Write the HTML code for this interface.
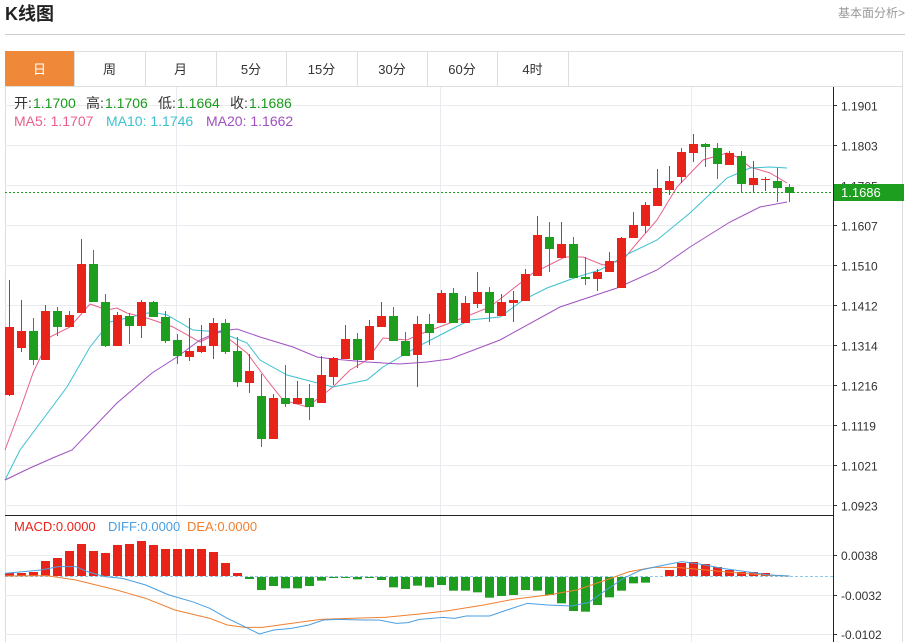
<!DOCTYPE html>
<html><head><meta charset="utf-8"><style>
body{margin:0;background:#fff;width:909px;height:642px;overflow:hidden;font-family:"Liberation Sans","Noto Sans CJK SC",sans-serif;}
</style></head><body>
<svg id="s" width="909" height="642" xmlns="http://www.w3.org/2000/svg" style="position:absolute;left:0;top:0">
<text x="5" y="20" font-size="18" font-weight="bold" fill="#222" font-family="Liberation Sans,Noto Sans CJK SC,sans-serif">K线图</text>
<text x="905" y="17" font-size="12" fill="#999" text-anchor="end" font-family="Liberation Sans,Noto Sans CJK SC,sans-serif">基本面分析&gt;</text>
<line x1="5" y1="34.5" x2="905" y2="34.5" stroke="#ccc"/>
<rect x="5.5" y="51.5" width="897" height="600" fill="none" stroke="#ddd"/>
<line x1="5" y1="86.5" x2="903" y2="86.5" stroke="#ddd"/>
<rect x="5" y="51" width="69" height="35" fill="#f0883a"/>
<g id="tabs" font-size="13" fill="#333" text-anchor="middle" font-family="Liberation Sans,Noto Sans CJK SC,sans-serif"></g>
<g id="grid"></g>
<g id="mas"></g>
<g id="candles"></g>
<g id="macd"></g>
<g font-size="14" font-family="Liberation Sans,Noto Sans CJK SC,sans-serif">
<text x="14" y="108" fill="#333">开:</text><text x="33" y="108" fill="#1a9a1a">1.1700</text>
<text x="86" y="108" fill="#333">高:</text><text x="105" y="108" fill="#1a9a1a">1.1706</text>
<text x="158" y="108" fill="#333">低:</text><text x="177" y="108" fill="#1a9a1a">1.1664</text>
<text x="230" y="108" fill="#333">收:</text><text x="249" y="108" fill="#1a9a1a">1.1686</text>
<text x="14" y="126" fill="#e8608a">MA5: 1.1707</text>
<text x="106" y="126" fill="#3cc0d0">MA10: 1.1746</text>
<text x="206" y="126" fill="#a050c0">MA20: 1.1662</text>
</g>
<g font-size="13" font-family="Liberation Sans,sans-serif">
<text x="14" y="531" fill="#e8231a">MACD:0.0000</text>
<text x="108" y="531" fill="#4a9ee0">DIFF:0.0000</text>
<text x="187" y="531" fill="#f08030">DEA:0.0000</text>
</g>
</svg>
<script>
var NS="http://www.w3.org/2000/svg";
function el(p,t,a,txt){var e=document.createElementNS(NS,t);for(var k in a)e.setAttribute(k,a[k]);if(txt!==undefined)e.textContent=txt;document.getElementById(p).appendChild(e);return e;}
var tabs=[["日",5,74],["周",74,145],["月",145,216],["5分",216,286],["15分",286,357],["30分",357,427],["60分",427,497],["4时",497,568]];
tabs.forEach(function(t,i){el("tabs","text",{x:(t[1]+t[2])/2,y:74,fill:i==0?"#fff":"#333"},t[0]);el("tabs","line",{x1:t[2]+.5,y1:51,x2:t[2]+.5,y2:86,stroke:"#ddd"});});
var labels=["1.1901","1.1803","1.1705","1.1607","1.1510","1.1412","1.1314","1.1216","1.1119","1.1021","1.0923"];
labels.forEach(function(l,i){var y=105+i*40+.5;el("grid","line",{x1:5,y1:y,x2:833,y2:y,stroke:"#e8ecf0"});el("grid","line",{x1:833,y1:y,x2:837,y2:y,stroke:"#333"});el("grid","text",{x:841,y:y+5,"font-size":12,fill:"#333"},l);});
[176,440,691].forEach(function(x){el("grid","line",{x1:x+.5,y1:87,x2:x+.5,y2:642,stroke:"#e8ecf0"});});
[[555,"0.0038"],[595,"-0.0032"],[634,"-0.0102"]].forEach(function(a){el("grid","line",{x1:5,y1:a[0]+.5,x2:833,y2:a[0]+.5,stroke:"#e8ecf0"});el("grid","line",{x1:833,y1:a[0]+.5,x2:837,y2:a[0]+.5,stroke:"#333"});el("grid","text",{x:841,y:a[0]+5,"font-size":12,fill:"#333"},a[1]);});
el("grid","line",{x1:833.5,y1:87,x2:833.5,y2:642,stroke:"#222"});
el("grid","line",{x1:5,y1:515.5,x2:833,y2:515.5,stroke:"#222"});
el("grid","line",{x1:5,y1:576.5,x2:833,y2:576.5,stroke:"#8cc8e8","stroke-dasharray":"3,2"});
var C=[["r",327,395,280,396],["r",331,348,300,352],["g",331,360,318,365],["r",311,360,305,360],["g",311,327,307,336],["r",315,327,311,327],["r",264,313,239,313],["g",264,302,250,302],["g",302,346,294,347],["r",315,346,312,346],["g",316,326,313,344],["r",302,326,300,338],["g",302,317,301,317],["g",317,341,311,343],["g",340,356,334,364],["r",351,357,318,361],["r",346,352,325,353],["r",323,346,318,359],["g",323,352,319,354],["g",351,382,337,387],["r",371,383,354,393],["g",396,439,374,447],["r",398,439,394,439],["g",398,404,365,407],["r",398,404,381,404],["g",398,407,384,420],["r",375,403,356,403],["r",358,377,357,385],["r",339,359,325,359],["g",339,360,333,368],["r",326,360,320,360],["r",316,327,302,327],["g",316,341,307,341],["g",341,356,332,356],["r",324,355,316,387],["g",324,333,314,345],["r",293,323,290,323],["g",293,323,288,323],["r",303,323,296,323],["r",292,304,272,308],["g",292,313,287,322],["r",302,316,294,316],["r",300,303,291,322],["r",274,301,269,301],["r",235,276,216,276],["g",237,249,222,272],["r",244,258,222,258],["g",244,278,237,278],["g",277,279,257,285],["r",272,279,269,291],["r",261,272,252,272],["r",238,288,237,288],["r",225,238,212,238],["r",205,226,202,233],["r",188,206,169,206],["r",181,190,166,195],["r",152,177,148,183],["r",144,153,134,162],["g",144,147,143,167],["g",148,164,143,179],["r",153,165,151,165],["g",156,184,151,192],["r",178,185,161,193],["r",179,180,177,191],["g",181,188,168,202],["g",187,193,184,202]];
C.forEach(function(c,i){var x=5+i*12,col=c[0]=="r"?"#e8231a":"#1e9e1e";el("candles","line",{x1:x+4.5,y1:c[3],x2:x+4.5,y2:c[4],stroke:col});el("candles","rect",{x:x,y:c[1],width:9,height:Math.max(1,c[2]-c[1]),fill:col});});
function poly(g,pts,col,w){el(g,"polyline",{points:pts.map(function(p){return p.join(",")}).join(" "),fill:"none",stroke:col,"stroke-width":w||1});}
poly("mas",[[5,450],[20,410],[33,373],[50,337],[70,327],[90,304],[107,310],[117,308],[127,313],[150,319],[173,327],[200,342],[220,332],[247,353],[267,380],[283,400],[307,407],[333,387],[350,370],[367,360],[383,338],[407,340],[423,333],[450,323],[490,307],[533,273],[565,257],[583,257],[603,265],[623,260],[637,243],[657,220],[677,187],[703,160],[727,153],[737,157],[750,167],[770,173],[787,183]],"#e8608a");
poly("mas",[[5,480],[20,450],[67,387],[90,347],[110,322],[127,318],[152,312],[167,315],[193,330],[220,332],[247,343],[260,360],[287,375],[333,387],[367,380],[383,367],[417,347],[450,330],[470,320],[500,317],[523,300],[547,288],[577,277],[600,270],[630,253],[657,240],[690,213],[727,178],[750,168],[770,167],[787,168]],"#3cc0d0");
poly("mas",[[5,480],[30,468],[55,457],[72,450],[117,403],[152,373],[177,357],[200,340],[220,331],[237,329],[260,337],[293,347],[317,357],[333,359],[367,362],[400,364],[427,362],[450,359],[500,340],[560,307],[617,288],[657,270],[690,247],[730,222],[760,207],[787,202]],"#a050c0");
el("mas","line",{x1:5,y1:192.5,x2:833,y2:192.5,stroke:"#1e9e1e","stroke-dasharray":"2,2"});
el("mas","rect",{x:834,y:184,width:70,height:17,fill:"#1e9e1e"});
el("mas","text",{x:841,y:197,"font-size":13,fill:"#fff"},"1.1686");
var red=[573,573,572,561,558,551,544,551,553,545,544,541,545,549,549,549,549,552,563,573];
red.forEach(function(t,i){el("macd","rect",{x:5+i*12,y:t,width:9,height:576-t,fill:"#e8231a"});});
var gz=[207,240,228,235,235,228,212,203,200,208,200,210,232,237,227,232,225,242,242,247,263,258,255,240,242,255,280,303,305,285,262,242,220,218];
gz.forEach(function(b,i){var yb=b/3+510;el("macd","rect",{x:5+(20+i)*12,y:577,width:9,height:Math.max(1,yb-577),fill:"#1e9e1e"});});
var r2=[570,563,562,564,567,570,572,572,573,575];
r2.forEach(function(t,i){el("macd","rect",{x:5+(55+i)*12,y:t,width:9,height:576-t,fill:"#e8231a"});});
function conv(a){return a.map(function(p){return [p[0]/1.716,p[1]/3+510];});}
poly("macd",conv([[8,198],[80,197],[130,210],[200,240],[250,265],[300,300],[360,325],[390,345],[420,352],[450,352],[500,340],[550,328],[600,325],[660,322],[720,312],[770,302],[830,285],[880,268],[940,255],[990,240],[1040,210],[1080,185],[1120,172],[1160,172],[1200,178],[1260,188],[1320,196],[1355,198]]),"#f08030");
poly("macd",conv([[8,190],[70,180],[100,170],[130,170],[150,185],[180,200],[210,205],[250,225],[290,255],[330,275],[360,295],[390,325],[420,350],[445,372],[470,360],[500,355],[530,345],[555,330],[580,328],[620,330],[650,330],[680,340],[700,338],[720,328],[760,322],[780,325],[800,318],[840,318],[870,300],[905,280],[940,285],[980,288],[1010,278],[1040,240],[1070,205],[1100,180],[1140,165],[1170,155],[1200,162],[1240,175],[1280,185],[1320,195],[1355,198]]),"#4a9ee0");
</script>
</body></html>
